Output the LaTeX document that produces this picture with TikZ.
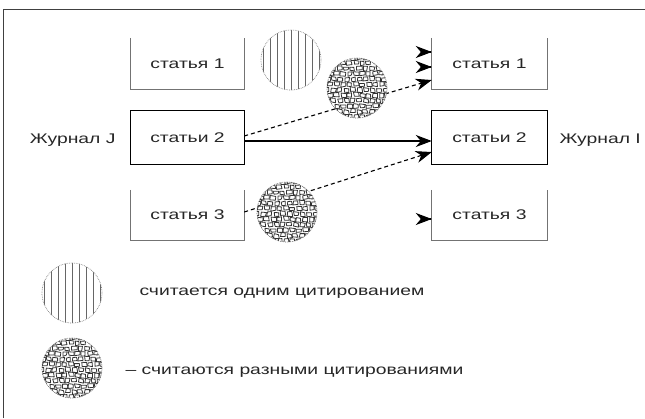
\documentclass[tikz,border=0pt]{standalone}
\usepackage{fontspec}
\setmainfont{Liberation Sans}[FakeStretch=1.38]
\usetikzlibrary{arrows.meta,calc}
\begin{document}
\begin{tikzpicture}[x=1pt,y=-1pt,
  lbl/.style={font=\fontsize{14}{16}\selectfont, text=black!85},
  art/.style={lbl, minimum width=113pt, inner sep=0pt},
  openbox/.style={draw=black!55, line width=0.8pt},
  fullbox/.style={draw=black, line width=1.2pt},
  tipstyle/.style={-{Stealth[length=16pt,width=12pt,inset=5pt]}, line width=1.1pt},
  dsh/.style={tipstyle, dash pattern=on 4pt off 3pt},
  stripes/.style={circle, minimum size=60pt, inner sep=0pt, fill=white,
    draw=black!50, densely dotted, line width=0.7pt,
    path picture={
      \foreach \k in {-4,...,4}{
        \draw[solid, black!60, line width=0.6pt]
          ([xshift=\k*7pt,yshift=-32pt]path picture bounding box.center) --
          ([xshift=\k*7pt,yshift=32pt]path picture bounding box.center);
      }}},
  stones/.style={circle, minimum size=60pt, inner sep=0pt, fill=white,
    draw=black!60, densely dotted, line width=0.7pt,
    path picture={
      \pgfmathsetseed{11}
      \foreach \j in {-6,...,6}{
        \foreach \i in {-6,...,5}{
          \pgfmathsetmacro\dx{\i*6.4 + mod(abs(\j),2)*3.2 + rand*0.8}
          \pgfmathsetmacro\dy{\j*5.4 + rand*0.6}
          \pgfmathsetmacro\ax{\dx+rand*0.8}\pgfmathsetmacro\ay{\dy+rand*0.7}
          \pgfmathsetmacro\bx{\dx+4.6+rand*0.8}\pgfmathsetmacro\by{\dy+rand*0.7}
          \pgfmathsetmacro\cx{\dx+4.6+rand*0.8}\pgfmathsetmacro\cy{\dy-3.8+rand*0.7}
          \pgfmathsetmacro\ex{\dx+rand*0.8}\pgfmathsetmacro\ey{\dy-3.8+rand*0.7}
          \draw[solid, black!80, line width=0.8pt, line join=round]
            ([xshift=\ax pt,yshift=\ay pt]path picture bounding box.center) --
            ([xshift=\bx pt,yshift=\by pt]path picture bounding box.center) --
            ([xshift=\cx pt,yshift=\cy pt]path picture bounding box.center) --
            ([xshift=\ex pt,yshift=\ey pt]path picture bounding box.center) -- cycle;
        }}}},
]
\useasboundingbox (0,0) rectangle (645,418);
\draw[black!75, line width=1pt] (3,418) -- (3,9) -- (645,9);

% left journal
\node[art, minimum height=51pt] (l1) at (187.5,63.5) {статья 1};
\node[art, minimum height=53pt] (l2) at (187.5,137.5) {статьи 2};
\node[art, minimum height=50pt] (l3) at (187.5,215) {статья 3};
% right journal
\node[art, minimum width=115pt, minimum height=51pt] (r1) at (489.5,63.5) {статья 1};
\node[art, minimum width=115pt, minimum height=53pt] (r2) at (489.5,137.5) {статьи 2};
\node[art, minimum width=115pt, minimum height=50pt] (r3) at (489.5,215) {статья 3};

\draw[openbox] (l1.north west) -- (l1.south west) -- (l1.south east) -- (l1.north east);
\draw[openbox] (l3.north west) -- (l3.south west) -- (l3.south east) -- (l3.north east);
\draw[openbox] (r1.north west) -- (r1.south west) -- (r1.south east) -- (r1.north east);
\draw[openbox] (r3.north west) -- (r3.south west) -- (r3.south east) -- (r3.north east);
\draw[fullbox] (l2.north west) rectangle (l2.south east);
\draw[fullbox] (r2.north west) rectangle (r2.south east);

\node[lbl, anchor=east] (jj) at (119,140) {Журнал J};
\node[lbl, anchor=west] (ji) at (556,140) {Журнал I};

% connectors
\draw[tipstyle] ([yshift=-3.5pt]l2.east) -- ([yshift=-3.5pt]r2.west);
\draw[dsh] ([yshift=1.5pt]l2.east) -- ([yshift=-16.5pt]r1.west);
\draw[dsh] ([yshift=3pt]l3.east) -- ([yshift=-14.5pt]r2.west);
% lone arrowheads
\coordinate (a1) at ([xshift=-17pt,yshift=11.5pt]r1.west);
\coordinate (a2) at ([xshift=-17pt,yshift=-3.5pt]r1.west);
\coordinate (a3) at ([xshift=-17pt,yshift=-4pt]r3.west);
\draw[tipstyle, shorten <=16pt] (a1) -- ([yshift=11.5pt]r1.west);
\draw[tipstyle, shorten <=16pt] (a2) -- ([yshift=-3.5pt]r1.west);
\draw[tipstyle, shorten <=16pt] (a3) -- ([yshift=-4pt]r3.west);

% circles
\node[stripes] (c1) at (291,60) {};
\node[stones] (c2) at (357,88) {};
\node[stones] (c3) at (287,212) {};

% legend
\node[stripes] (lc1) at (72,293) {};
\node[stones] (lc2) at (72,368) {};
\node[lbl, anchor=west] (lt1) at (136,293) {считается одним цитированием};
\node[lbl, anchor=west] (lt2) at (122,372) {– считаются разными цитированиями};
\end{tikzpicture}
\end{document}
